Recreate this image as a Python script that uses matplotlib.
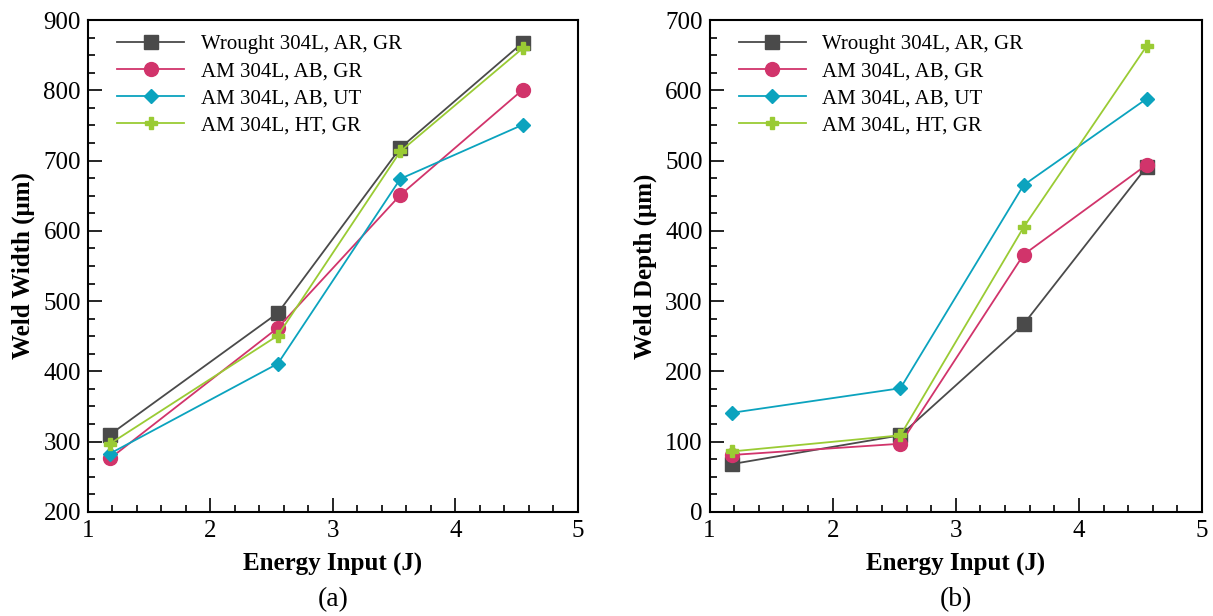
import numpy as np
import matplotlib.pyplot as plt
from matplotlib.ticker import MultipleLocator

plt.rcParams['font.family'] = ['Liberation Serif', 'DejaVu Serif']
plt.rcParams['mathtext.fontset'] = 'stix'

# data
energy = [1.18, 2.55, 3.55, 4.55]
labels = ["Wrought 304L, AR, GR", "AM 304L, AB, GR", "AM 304L, AB, UT", "AM 304L, HT, GR"]

width_wrought = [310, 483, 718, 868]
width_ab_gr = [276, 462, 651, 801]
width_ab_ut = [283, 411, 674, 751]
width_ht_gr = [297, 451, 713, 860]

depth_wrought = [68, 109, 267, 491]
depth_ab_gr = [81, 97, 366, 494]
depth_ab_ut = [141, 176, 465, 588]
depth_ht_gr = [86, 109, 405, 663]

colors = ["#4a4a4a", "#d1346b", "#0ba3be", "#9acb34"]
markers = ["s", "o", "D", "P"]
msizes = [10, 10, 7.5, 9]

fig = plt.figure(figsize=(12.13, 6.16), dpi=100)
ax1 = fig.add_axes([0.0725, 0.169, 0.404, 0.7985])
ax2 = fig.add_axes([0.585, 0.169, 0.406, 0.7985])


def draw(ax, series, ylim, ylabel, caption):
    for vals, lab, c, m, ms in zip(series, labels, colors, markers, msizes):
        ax.plot(energy, vals, "-", color=c, marker=m, markersize=ms, lw=1.3,
                label=lab, markeredgecolor=c, clip_on=False)
    ax.set_xlim(1, 5)
    ax.set_ylim(*ylim)
    ax.xaxis.set_major_locator(MultipleLocator(1))
    ax.xaxis.set_minor_locator(MultipleLocator(0.2))
    ax.yaxis.set_major_locator(MultipleLocator(100))
    ax.yaxis.set_minor_locator(MultipleLocator(25))
    ax.tick_params(which="both", direction="in", labelsize=18, width=1.2)
    ax.tick_params(which="major", length=10)
    ax.tick_params(which="minor", length=5)
    ax.tick_params(axis="x", pad=6)
    ax.tick_params(axis="y", pad=5)
    for s in ax.spines.values():
        s.set_linewidth(1.5)
    ax.set_xlabel("Energy Input (J)", fontsize=18, fontweight="bold", labelpad=8)
    ax.set_ylabel(ylabel, fontsize=18, fontweight="bold", labelpad=6)
    ax.text(0.5, -0.178, caption, transform=ax.transAxes, fontsize=20,
            ha="center", va="center")
    ax.legend(loc="upper left", frameon=False, fontsize=15, handlelength=3.2,
              borderaxespad=0.3, labelspacing=0.36, bbox_to_anchor=(0.03, 1.0))


draw(ax1, [width_wrought, width_ab_gr, width_ab_ut, width_ht_gr], (200, 900),
     "Weld Width (μm)", "(a)")
draw(ax2, [depth_wrought, depth_ab_gr, depth_ab_ut, depth_ht_gr], (0, 700),
     "Weld Depth (μm)", "(b)")

fig.savefig("out.png", dpi=100)
